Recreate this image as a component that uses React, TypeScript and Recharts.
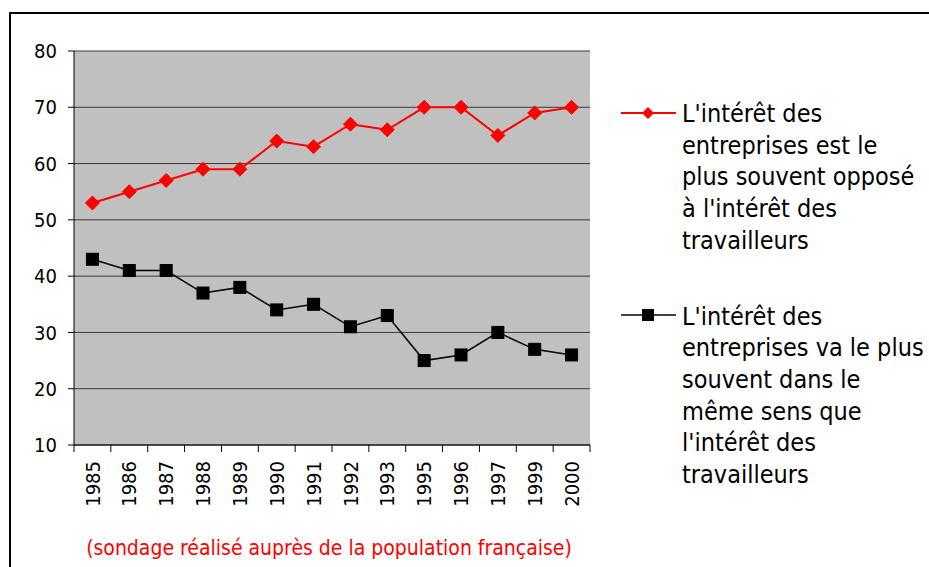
import React from 'react';
import { LineChart, Line, XAxis, YAxis, CartesianGrid, Legend } from 'recharts';

const years = ['1985', '1986', '1987', '1988', '1989', '1990', '1991', '1992', '1993', '1995', '1996', '1997', '1999', '2000'];
const opposeValues = [53, 55, 57, 59, 59, 64, 63, 67, 66, 70, 70, 65, 69, 70];
const memeSensValues = [43, 41, 41, 37, 38, 34, 35, 31, 33, 25, 26, 30, 27, 26];
const yTicks = [10, 20, 30, 40, 50, 60, 70, 80];
const seriesNames = [
  "L'intérêt des entreprises est le plus souvent opposé à l'intérêt des travailleurs",
  "L'intérêt des entreprises va le plus souvent dans le même sens que l'intérêt des travailleurs",
];
const legendLines = [
  ["L'intérêt des", 'entreprises est le', 'plus souvent opposé', "à l'intérêt des", 'travailleurs'],
  ["L'intérêt des", 'entreprises va le plus', 'souvent dans le', 'même sens que', "l'intérêt des", 'travailleurs'],
];
const caption = '(sondage réalisé auprès de la population française)';

const data = years.map((y, i) => ({ year: y, oppose: opposeValues[i], meme: memeSensValues[i] }));

const W = 929;
const H = 567;
const PLOT_LEFT = 74;
const PLOT_RIGHT = 590;
const PLOT_TOP = 51;
const PLOT_BOTTOM = 445;
const XAXIS_H = 50;
const BAND = (PLOT_RIGHT - PLOT_LEFT) / years.length;

const FONT = '"DejaVu Sans Condensed", "DejaVu Sans", Verdana, sans-serif';
const RED = '#FF0000';

const Diamond = ({ cx, cy, r = 7 }: any) => (
  <path d={`M${cx},${cy - r}L${cx + r},${cy}L${cx},${cy + r}L${cx - r},${cy}Z`} fill={RED} stroke={RED} strokeWidth={1} />
);
const Square = ({ cx, cy, s = 12 }: any) => (
  <rect x={cx - s / 2} y={cy - s / 2} width={s} height={s} fill="#000" stroke="#000" strokeWidth={1} />
);

const XTick = (props: any) => {
  const { x, y, payload, index } = props;
  const last = index === years.length - 1;
  return (
    <g>
      <line x1={x - BAND / 2} y1={y} x2={x - BAND / 2} y2={y + 7} stroke="#000" strokeWidth={1} />
      {last && <line x1={x + BAND / 2} y1={y} x2={x + BAND / 2} y2={y + 7} stroke="#000" strokeWidth={1} />}
      <g transform={`translate(${x},${y + 16}) rotate(-90)`}>
        <text x={0} y={0} dy="0.36em" textAnchor="end" fontSize={20} fontFamily={FONT} fill="#000">
          {payload.value}
        </text>
      </g>
    </g>
  );
};

const renderLegend = () => {
  const pitch = 31.7;
  const entries = [
    { lineY: 18, textY: 27, color: RED, marker: 'diamond' },
    { lineY: 220, textY: 229.5, color: '#000', marker: 'square' },
  ];
  return (
    <svg width={314} height={400} style={{ display: 'block', overflow: 'visible' }}>
      {entries.map((e, i) => (
        <g key={i}>
          <line x1={6} y1={e.lineY} x2={61} y2={e.lineY} stroke={e.color} strokeWidth={i === 0 ? 2 : 1.5} />
          {e.marker === 'diamond' ? <Diamond cx={33} cy={e.lineY} r={5.5} /> : <Square cx={33} cy={e.lineY} s={11} />}
          {legendLines[i].map((t, j) => (
            <text key={j} x={67} y={e.textY + j * pitch} fontSize={25} fontFamily={FONT} fill="#000">
              {t}
            </text>
          ))}
        </g>
      ))}
    </svg>
  );
};

export default function App() {
  return (
    <div style={{ position: 'absolute', left: 0, top: 0, width: W, height: H, overflow: 'hidden', background: '#fff' }}>
      <div
        style={{
          position: 'absolute',
          left: 9,
          top: 12,
          width: 1000,
          height: 1000,
          borderTop: '2px solid #000',
          borderLeft: '2px solid #000',
          boxSizing: 'border-box',
        }}
      />
      <div style={{ position: 'absolute', left: 0, top: 0 }}>
        <LineChart
          width={W}
          height={H}
          data={data}
          margin={{ top: PLOT_TOP, right: W - PLOT_RIGHT, bottom: H - PLOT_BOTTOM - XAXIS_H, left: 0 }}
        >
          <CartesianGrid horizontal vertical={false} fill="#C0C0C0" fillOpacity={1} stroke="#3a3a3a" strokeWidth={1} />
          <XAxis
            dataKey="year"
            height={XAXIS_H}
            interval={0}
            padding={{ left: BAND / 2, right: BAND / 2 }}
            tickSize={0}
            tickMargin={0}
            tickLine={false}
            axisLine={{ stroke: '#000', strokeWidth: 1 }}
            tick={<XTick />}
            label={{ value: caption, position: 'insideBottom', offset: -60, fill: RED, fontSize: 21, fontFamily: FONT, dx: -3 }}
          />
          <XAxis
            xAxisId="top"
            dataKey="year"
            orientation="top"
            height={0}
            tick={false}
            tickLine={false}
            axisLine={{ stroke: '#808080', strokeWidth: 2 }}
          />
          <YAxis
            width={PLOT_LEFT}
            domain={[10, 80]}
            ticks={yTicks}
            interval={0}
            tickSize={6}
            tickMargin={11}
            axisLine={{ stroke: '#000', strokeWidth: 1 }}
            tickLine={{ stroke: '#000', strokeWidth: 1 }}
            tick={{ fontSize: 20, fontFamily: FONT, fill: '#000' }}
          />
          <YAxis
            yAxisId="right"
            orientation="right"
            width={0}
            domain={[10, 80]}
            tick={false}
            tickLine={false}
            axisLine={{ stroke: '#808080', strokeWidth: 2 }}
          />
          <Line
            dataKey="oppose"
            name={seriesNames[0]}
            stroke={RED}
            strokeWidth={2}
            isAnimationActive={false}
            dot={(p: any) => <Diamond key={`d${p.index}`} cx={p.cx} cy={p.cy} r={7} />}
            activeDot={false}
          />
          <Line
            dataKey="meme"
            name={seriesNames[1]}
            stroke="#000"
            strokeWidth={1.5}
            isAnimationActive={false}
            dot={(p: any) => <Square key={`s${p.index}`} cx={p.cx} cy={p.cy} s={12} />}
            activeDot={false}
          />
          <Legend
            layout="vertical"
            align="center"
            verticalAlign="middle"
            content={renderLegend}
            wrapperStyle={{ left: 615, top: 95, width: 314, height: 400 }}
          />
        </LineChart>
      </div>
    </div>
  );
}
